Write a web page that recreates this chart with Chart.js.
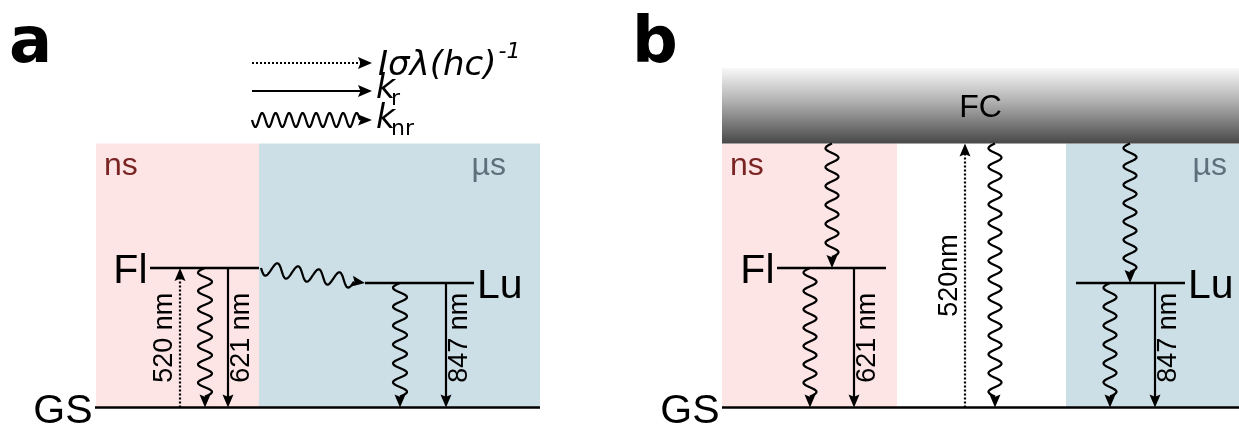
<!DOCTYPE html>
<html><head><meta charset="utf-8">
<script src="https://cdn.jsdelivr.net/npm/chart.js@4.4.0/dist/chart.umd.min.js"></script>
<style>html,body{margin:0;padding:0;background:#fff;}#c{display:block;}</style>
</head><body>
<canvas id="c" width="1239" height="425" style="width:1239px;height:425px"></canvas>
<script>
// ---- energy levels (relative units) ----
const levelNames  = ['GS', 'Lu', 'Fl', 'FC'];
const levelEnergy = [0, 1.245, 1.395, 2.64];
const fcTop = 3.395;
const E = n => levelEnergy[levelNames.indexOf(n)];

// ---- panel a ----
const panelALevels = [['GS', 95, 540], ['Fl', 150, 259], ['Lu', 365, 474]];
const panelABoxes  = [['ns', 96, 259], ['µs', 259, 540]];
const panelATrans  = [
  ['GS', 'Fl', 180, 'abs', '520 nm'],
  ['Fl', 'GS', 205, 'nr', ''],
  ['Fl', 'GS', 228, 'r', '621 nm'],
  ['Lu', 'GS', 400, 'nr', ''],
  ['Lu', 'GS', 446, 'r', '847 nm']
];
const panelATransfer = ['Fl', 'Lu', 261, 365];

// ---- panel b ----
const panelBLevels = [['GS', 722, 1239], ['Fl', 777, 886], ['Lu', 1076, 1185]];
const panelBBoxes  = [['ns', 722, 897], ['µs', 1066, 1239]];
const panelBFC     = [722, 1239];
const panelBTrans  = [
  ['FC', 'Fl', 832, 'nr', ''],
  ['Fl', 'GS', 810, 'nr', ''],
  ['Fl', 'GS', 854, 'r', '621 nm'],
  ['GS', 'FC', 965, 'abs', '520nm'],
  ['FC', 'GS', 995, 'nr', ''],
  ['FC', 'Lu', 1130, 'nr', ''],
  ['Lu', 'GS', 1110, 'nr', ''],
  ['Lu', 'GS', 1155, 'r', '847 nm']
];

const PINK = '#fde5e5', BLUE = '#cddfe6';
const NS_COL = '#7a2323', US_COL = '#5d707b';
const SANS = '"Liberation Sans", Arial, sans-serif';

// ---- datasets for level lines and straight arrows ----
const datasets = [];
[panelALevels, panelBLevels].forEach(lv => lv.forEach(([n, x0, x1]) => {
  datasets.push({data: [{x: x0, y: E(n)}, {x: x1, y: E(n)}], showLine: true,
    borderColor: '#000', borderWidth: 2.6, pointRadius: 0});
}));
[panelATrans, panelBTrans].forEach(tr => tr.forEach(([f, t, x, type]) => {
  if (type === 'nr') return;
  const dir = E(t) > E(f) ? 1 : -1;
  datasets.push({data: [{x: x, y: E(f)}, {x: x, y: E(t) - dir * 0.1}], showLine: true,
    borderColor: '#000', borderWidth: 2.2, pointRadius: 0,
    borderDash: type === 'abs' ? [2, 2] : []});
}));

function head(ctx, x, y, ux, uy, len, hw) {
  const nx = -uy, ny = ux;
  ctx.beginPath();
  ctx.moveTo(x, y);
  ctx.lineTo(x - ux * len + nx * hw, y - uy * len + ny * hw);
  ctx.lineTo(x - ux * len * 0.82, y - uy * len * 0.82);
  ctx.lineTo(x - ux * len - nx * hw, y - uy * len - ny * hw);
  ctx.closePath();
  ctx.fillStyle = '#000';
  ctx.fill();
}
function wavy(ctx, x0, y0, x1, y1, amp, wl, hl) {
  const dx = x1 - x0, dy = y1 - y0, L = Math.hypot(dx, dy);
  const ux = dx / L, uy = dy / L, nx = -uy, ny = ux;
  const Lw = L - hl + 2;
  const half = Math.max(1, Math.round(2 * Lw / wl));
  const w = 2 * Lw / half;
  ctx.beginPath();
  for (let s = 0; s <= Lw + 0.01; s += 0.5) {
    const o = amp * Math.sin(2 * Math.PI * s / w);
    const px = x0 + ux * s + nx * o, py = y0 + uy * s + ny * o;
    if (s === 0) ctx.moveTo(px, py); else ctx.lineTo(px, py);
  }
  ctx.lineWidth = 2.2; ctx.strokeStyle = '#000'; ctx.lineJoin = 'round';
  ctx.stroke();
  head(ctx, x1, y1, ux, uy, hl, 5.5);
}
function rotText(ctx, txt, x, y) {
  ctx.save(); ctx.translate(x, y); ctx.rotate(-Math.PI / 2);
  ctx.textAlign = 'center'; ctx.textBaseline = 'alphabetic';
  ctx.fillText(txt, 0, 0); ctx.restore();
}

const diagram = {
  id: 'diagram',
  beforeDatasetsDraw(chart) {
    const ctx = chart.ctx, X = v => chart.scales.x.getPixelForValue(v), Y = v => chart.scales.y.getPixelForValue(v);
    ctx.save();
    const top = Y(E('FC')), bot = Y(E('GS'));
    [panelABoxes, panelBBoxes].forEach(bx => bx.forEach(([lab, x0, x1]) => {
      ctx.fillStyle = lab === 'ns' ? PINK : BLUE;
      ctx.fillRect(X(x0), top, X(x1) - X(x0), bot - top);
    }));
    // FC band
    const ft = Y(fcTop), fb = Y(E('FC'));
    const g = ctx.createLinearGradient(0, ft, 0, fb);
    g.addColorStop(0, '#f8f8f8'); g.addColorStop(0.45, '#b0b0b0'); g.addColorStop(1, '#484848');
    ctx.fillStyle = g;
    ctx.fillRect(X(panelBFC[0]), ft, X(panelBFC[1]) - X(panelBFC[0]), fb - ft);
    ctx.restore();
  },
  afterDatasetsDraw(chart) {
    const ctx = chart.ctx, X = v => chart.scales.x.getPixelForValue(v), Y = v => chart.scales.y.getPixelForValue(v);
    ctx.save();
    const waves = [[panelATrans, 7, 18.5], [panelBTrans, 6.5, 19]];
    waves.forEach(([tr, amp, wl]) => tr.forEach(([f, t, x, type, lab]) => {
      const y0 = Y(E(f)), y1 = Y(E(t));
      if (type === 'nr') wavy(ctx, X(x), y0, X(x), y1, amp, wl, 13);
      else head(ctx, X(x), y1, 0, y1 > y0 ? 1 : -1, 13, 5.5);
      if (lab) {
        ctx.fillStyle = '#000'; ctx.font = '27px ' + SANS;
        const yc = (Y(E(f)) + Y(E(t))) / 2;
        const hi = E(f) > E(t) ? f : t;
        const yc2 = hi === 'FC' ? yc : (Y(E('Fl')) + Y(E('GS'))) / 2;
        if (type === 'abs') rotText(ctx, lab, X(x) - 8, yc2);
        else rotText(ctx, lab, X(x) + 21, yc2);
      }
    }));
    // transfer Fl -> Lu
    const [tf, tt, tx0, tx1] = panelATransfer;
    wavy(ctx, X(tx0), Y(E(tf)), X(tx1), Y(E(tt)), 7, 21, 13);

    // level labels
    ctx.fillStyle = '#000'; ctx.font = '41px ' + SANS; ctx.textBaseline = 'alphabetic';
    [panelALevels, panelBLevels].forEach(lv => lv.forEach(([n, x0, x1]) => {
      const y = Y(E(n)) + 15;
      if (n === 'Lu') { ctx.textAlign = 'left'; ctx.fillText(n, X(x1) + 3, y); }
      else { ctx.textAlign = 'right'; ctx.fillText(n, X(x0) - 2.5, y); }
    }));
    // FC label
    ctx.font = '32px ' + SANS; ctx.textAlign = 'center';
    ctx.fillText('FC', (X(panelBFC[0]) + X(panelBFC[1])) / 2, Y(fcTop) + 49);
    // time-scale labels
    ctx.font = '32px ' + SANS;
    const tsY = Y(E('FC')) + 31;
    ctx.textAlign = 'left'; ctx.fillStyle = NS_COL;
    ctx.fillText('ns', X(panelABoxes[0][1]) + 8, tsY);
    ctx.fillText('ns', X(panelBBoxes[0][1]) + 8, tsY);
    ctx.fillStyle = US_COL; ctx.textAlign = 'right';
    ctx.fillText('µs', X(panelABoxes[1][2]) - 34, tsY);
    ctx.fillText('µs', X(panelBBoxes[1][2]) - 12, tsY);

    // panel tags
    ctx.fillStyle = '#000'; ctx.textAlign = 'left';
    ctx.font = 'bold 64px "DejaVu Sans", sans-serif';
    ctx.fillText('a', 9, 62);
    ctx.fillText('b', 632, 62);

    // legend
    ctx.strokeStyle = '#000'; ctx.lineWidth = 2.2;
    ctx.setLineDash([2, 2]);
    ctx.beginPath(); ctx.moveTo(252, 63); ctx.lineTo(362, 63); ctx.stroke();
    ctx.setLineDash([]);
    head(ctx, 372, 63, 1, 0, 14, 6);
    ctx.beginPath(); ctx.moveTo(252, 91); ctx.lineTo(362, 91); ctx.stroke();
    head(ctx, 372, 91, 1, 0, 14, 6);
    wavy(ctx, 252, 120, 372, 120, 7, 13.5, 14);
    ctx.fillStyle = '#000';
    const lx = 378;
    ctx.font = 'italic 34px "DejaVu Sans", sans-serif';
    ctx.fillText('Iσλ(hc)', lx, 75);
    let w = ctx.measureText('Iσλ(hc)').width;
    ctx.font = 'italic 22px "DejaVu Sans", sans-serif';
    ctx.fillText('-1', lx + w + 2, 58);
    ctx.font = 'italic 33px "DejaVu Sans", sans-serif';
    ctx.fillText('k', lx - 2, 98);
    ctx.fillText('k', lx - 2, 128);
    w = ctx.measureText('k').width;
    ctx.font = '22px "DejaVu Sans", sans-serif';
    ctx.fillText('r', lx - 2 + w - 4, 105);
    ctx.fillText('nr', lx - 2 + w - 4, 135);
    ctx.restore();
  }
};

new Chart(document.getElementById('c'), {
  type: 'scatter',
  data: {datasets},
  options: {
    responsive: false, animation: false, devicePixelRatio: 1,
    layout: {padding: 0},
    plugins: {legend: {display: false}, tooltip: {enabled: false}},
    scales: {
      x: {type: 'linear', min: 0, max: 1239, display: false},
      y: {type: 'linear', min: -0.175, max: 4.075, display: false}
    }
  },
  plugins: [diagram]
});
</script>
</body></html>
